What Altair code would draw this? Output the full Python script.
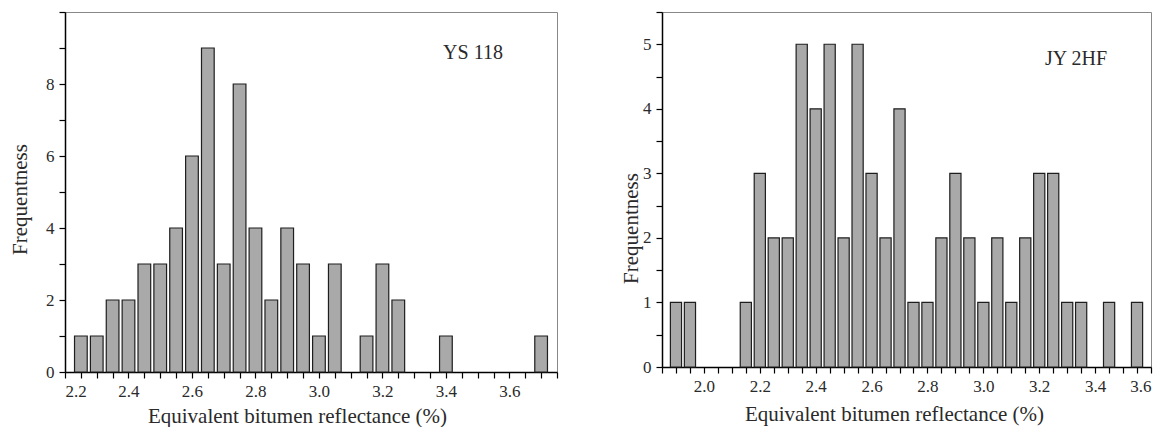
import altair as alt
import pandas as pd

# ---- data ----
ys_bins = [2.25, 2.30, 2.35, 2.40, 2.45, 2.50, 2.55, 2.60, 2.65, 2.70, 2.75,
           2.80, 2.85, 2.90, 2.95, 3.00, 3.05, 3.15, 3.20, 3.25, 3.40, 3.70]
ys_counts = [1, 1, 2, 2, 3, 3, 4, 6, 9, 3, 8,
             4, 2, 4, 3, 1, 3, 1, 3, 2, 1, 1]

jy_bins = [1.90, 1.95, 2.15, 2.20, 2.25, 2.30, 2.35, 2.40, 2.45, 2.50, 2.55,
           2.60, 2.65, 2.70, 2.75, 2.80, 2.85, 2.90, 2.95, 3.00, 3.05, 3.10,
           3.15, 3.20, 3.25, 3.30, 3.35, 3.45, 3.55]
jy_counts = [1, 1, 1, 3, 2, 2, 5, 4, 5, 2, 5,
             3, 2, 4, 1, 1, 2, 3, 2, 1, 2, 1,
             2, 3, 3, 1, 1, 1, 1]

ys_label = "YS 118"
jy_label = "JY 2HF"
x_title = "Equivalent bitumen reflectance (%)"
y_title = "Frequentness"

FONT = "Liberation Serif"
TEXT = "#2a2a2a"


def steps(lo, hi, step):
    n = int(round((hi - lo) / step))
    return [round(lo + i * step, 2) for i in range(n + 1)]


def panel(bins, counts, xdom, ydom, ystep, ylabel_expr, w, h, label, lx, ly,
          ytx, yty, xty):
    df = pd.DataFrame({"center": bins, "count": counts})
    xvals = steps(xdom[0], xdom[1], 0.05)
    yvals = steps(ydom[0], ydom[1], ystep)
    bars = alt.Chart(df).transform_calculate(
        x0="datum.center - 0.02", x1="datum.center + 0.02"
    ).mark_bar(fill="#a9a9a9", stroke="#1e1e1e", strokeWidth=1.2).encode(
        x=alt.X("x0:Q", scale=alt.Scale(domain=xdom, nice=False, zero=False),
                axis=alt.Axis(values=xvals, title=x_title,
                              labelExpr="round(datum.value*100) % 20 == 0 ? format(datum.value, '.1f') : ''",
                              titleX=232, titleY=xty, titleBaseline="middle")),
        x2="x1:Q",
        y=alt.Y("count:Q", scale=alt.Scale(domain=ydom, nice=False),
                axis=alt.Axis(values=yvals, title=y_title, labelExpr=ylabel_expr,
                              titleX=ytx, titleY=yty, titleAngle=270,
                              titleBaseline="middle")),
        y2=alt.datum(0),
    )
    txt = alt.Chart(pd.DataFrame({"t": [label]})).mark_text(
        font=FONT, fontSize=20, color=TEXT, align="center", baseline="middle"
    ).encode(x=alt.value(lx), y=alt.value(ly), text="t:N")
    return alt.layer(bars, txt).properties(width=w, height=h)


left = panel(ys_bins, ys_counts, [2.2, 3.75], [0, 10], 1,
             "datum.value % 2 == 0 && datum.value < 10 ? format(datum.value, 'd') : ''",
             492, 360, ys_label, 408, 41, -45, 187, 44)
right = panel(jy_bins, jy_counts, [1.85, 3.6], [0, 5.5], 0.5,
              "datum.value % 1 == 0 ? format(datum.value, 'd') : ''",
              489, 355, jy_label, 414, 47, -31, 216, 47)

chart = alt.hconcat(left, right, spacing=60).properties(
    padding={"left": 8, "top": 10, "right": 0, "bottom": 3}
).configure(
    font=FONT
).configure_view(
    stroke="#888888", strokeWidth=1
).configure_axis(
    grid=False, domainColor="#000000", domainWidth=1.5,
    tickColor="#000000", tickWidth=1.2, tickSize=6,
    labelFont=FONT, labelFontSize=17, labelColor=TEXT, labelPadding=5,
    titleFont=FONT, titleFontSize=21, titleFontWeight="normal", titleColor=TEXT
)

chart.save("out.html", embed_options={"renderer": "svg", "actions": False})
